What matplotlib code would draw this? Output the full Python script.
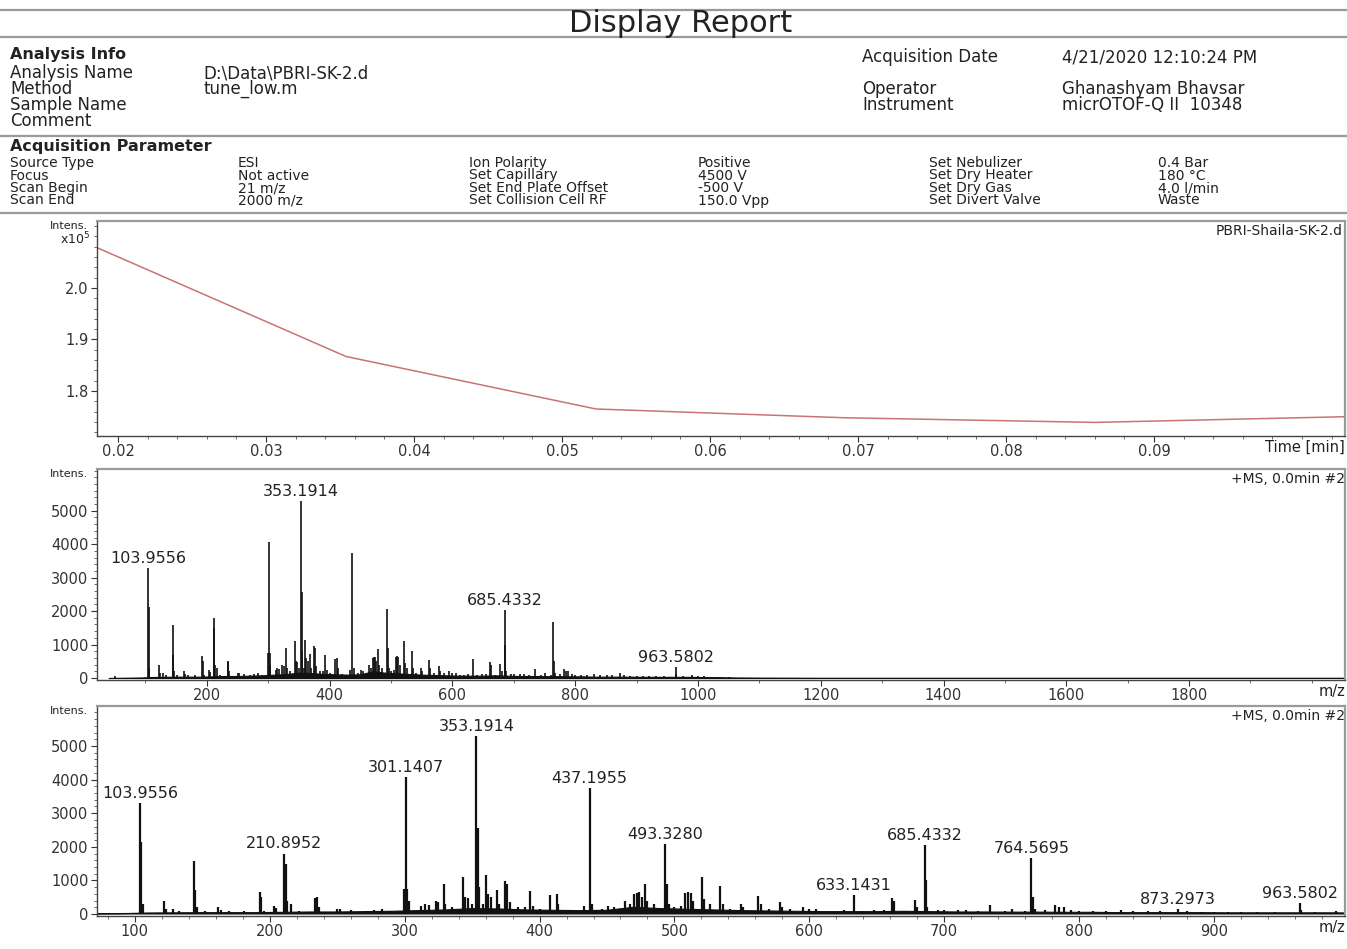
import matplotlib
matplotlib.use("Agg")
import matplotlib.pyplot as plt
from matplotlib.lines import Line2D
from matplotlib.ticker import MultipleLocator, FormatStrFormatter

W, H = 1347, 949
plt.rcParams['font.family'] = ['DejaVu Sans']

# chromatogram, intensity in units of 1e5
tic_time = [0.0186, 0.0354, 0.0523, 0.0691, 0.0860, 0.1028]
tic_int = [2.078, 1.867, 1.765, 1.748, 1.739, 1.750]

# spectrum peaks (m/z, intensity)
peak_mz = [51, 103.9556, 104.96, 106, 121.5, 123, 128, 133, 144.0, 145.0, 146.0, 152, 162.0, 164, 170,
           181, 192.5, 193.6, 196, 203.0, 205, 210.8952, 211.9, 213, 216, 222, 233.7, 235.0, 236.5,
           250.0, 252, 260, 271, 277, 283, 290, 299.8, 301.1407, 302.1, 303.1, 312, 315, 318, 323, 325,
           328.9, 330, 335, 343.5, 345, 347, 350, 353.1914, 354.2, 355.2, 358, 360.5, 362, 364, 368.5,
           370, 374.5, 376, 378, 384, 389, 393, 395, 400, 408, 412.6, 414, 420, 426, 433, 437.1955,
           439, 446, 451, 455, 463.5, 467, 470, 472, 474, 476, 478, 480, 485, 493.3280, 494.3, 496,
           500, 505, 508, 510, 512, 514, 520.3, 522, 526, 534, 536, 541, 549, 551, 562, 564, 570,
           578, 580, 586, 595, 600, 605, 612, 619, 626, 633.1431, 640, 648, 655, 661.5, 663, 670,
           678, 680, 685.4332, 686.4, 687.5, 695, 700, 710, 716, 725, 734, 745, 750, 760, 764.5695,
           765.6, 767, 775, 782, 785, 789, 794, 800, 810, 820, 831, 840, 851, 860, 873.2973, 880,
           890, 900, 910, 920, 932, 945, 963.5802, 964.6, 975, 990, 1000, 1010, 1030, 1050]
peak_int = [70, 3300, 2130, 300, 400, 150, 150, 100, 1580, 700, 200, 80, 220, 120, 80,
            80, 660, 520, 100, 230, 180, 1800, 1500, 400, 300, 100, 480, 500, 200,
            150, 160, 110, 100, 130, 150, 100, 750, 4080, 750, 400, 250, 300, 280, 400, 350,
            900, 300, 200, 1100, 500, 480, 300, 5300, 2560, 800, 300, 1150, 600, 500, 720,
            300, 970, 900, 350, 200, 200, 690, 250, 150, 560, 600, 300, 120, 100, 250, 3740,
            300, 150, 250, 200, 380, 300, 600, 620, 640, 500, 880, 400, 300, 2070, 900, 300,
            200, 250, 620, 650, 620, 400, 1100, 450, 300, 820, 300, 150, 300, 220, 540, 300, 150,
            350, 200, 150, 200, 150, 150, 100, 100, 120, 560, 100, 120, 120, 470, 400, 100,
            420, 200, 2040, 1000, 200, 130, 120, 110, 110, 100, 260, 100, 150, 100, 1670,
            500, 150, 120, 260, 200, 200, 120, 100, 90, 90, 120, 80, 80, 80, 140, 80,
            70, 70, 60, 60, 60, 70, 330, 120, 60, 80, 50, 50, 40, 30]

# noise floor of the spectrum
baseline_mz = [40, 80, 95, 100, 110, 130, 150, 170, 190, 210, 230, 250, 270, 290, 310, 330, 350,
               370, 390, 410, 430, 450, 470, 490, 510, 530, 550, 570, 590, 610, 630, 650, 670, 690,
               710, 730, 750, 770, 790, 810, 830, 850, 870, 890, 910, 930, 950, 970, 990, 1010,
               1030, 1060, 1100, 1200, 1400, 1600, 1800, 2060]
baseline_int = [0, 10, 15, 20, 30, 35, 40, 40, 40, 50, 60, 60, 70, 80, 100, 120, 160,
                150, 120, 110, 100, 110, 200, 160, 140, 120, 100, 90, 80, 70, 70, 70, 80, 70,
                60, 60, 55, 55, 50, 50, 40, 40, 40, 40, 35, 35, 35, 35, 35, 25,
                25, 15, 10, 5, 5, 5, 5, 5]

labels_full = [103.9556, 353.1914, 685.4332, 963.5802]
labels_zoom = [103.9556, 210.8952, 301.1407, 353.1914, 437.1955, 493.3280,
               633.1431, 685.4332, 764.5695, 873.2973, 963.5802]

info_keys = ["Analysis Name", "Method", "Sample Name", "Comment"]
info_vals = ["D:\\Data\\PBRI-SK-2.d", "tune_low.m", "", ""]
info_right_keys = ["Acquisition Date", "Operator", "Instrument"]
info_right_vals = ["4/21/2020 12:10:24 PM", "Ghanashyam Bhavsar", "micrOTOF-Q II  10348"]

param_names_1 = ["Source Type", "Focus", "Scan Begin", "Scan End"]
param_vals_1 = ["ESI", "Not active", "21 m/z", "2000 m/z"]
param_names_2 = ["Ion Polarity", "Set Capillary", "Set End Plate Offset", "Set Collision Cell RF"]
param_vals_2 = ["Positive", "4500 V", "-500 V", "150.0 Vpp"]
param_names_3 = ["Set Nebulizer", "Set Dry Heater", "Set Dry Gas", "Set Divert Valve"]
param_vals_3 = ["0.4 Bar", "180 °C", "4.0 l/min", "Waste"]

TXT = '#222222'
RULE = '#9a9a9a'


def fx(x):
    return x / W


def fy(y):
    return 1 - y / H


def put(x, y, s, size=11, **kw):
    fig.text(fx(x), fy(y), s, fontsize=size, color=TXT, va='center', **kw)


def hrule(y, lw=1.6):
    fig.add_artist(Line2D([0, 1], [fy(y), fy(y)], transform=fig.transFigure,
                          color=RULE, lw=lw))


fig = plt.figure(figsize=(W / 100, H / 100), dpi=100)

# ---- header
hrule(10)
hrule(37)
hrule(136)
hrule(213)
put(681, 23, "Display Report", size=22, ha='center')
put(10, 55, "Analysis Info", size=11.5, weight='bold')
for i, (k, v) in enumerate(zip(info_keys, info_vals)):
    put(10, 73 + 16 * i, k, size=12)
    put(203, 73 + 16 * i, v, size=12)
for k, v, y in zip(info_right_keys, info_right_vals, [57, 89, 105]):
    put(862, y, k, size=12)
    put(1062, y, v, size=12)

put(10, 147, "Acquisition Parameter", size=11.5, weight='bold')
cols = [(10, 238, param_names_1, param_vals_1),
        (469, 698, param_names_2, param_vals_2),
        (929, 1158, param_names_3, param_vals_3)]
for xn, xv, names, vals in cols:
    for i, (n, v) in enumerate(zip(names, vals)):
        put(xn, 163 + 12.5 * i, n, size=10)
        put(xv, 163 + 12.5 * i, v, size=10)


def style_axes(ax):
    for s in ['top', 'right']:
        ax.spines[s].set_color(RULE)
        ax.spines[s].set_linewidth(1.6)
    for s in ['left', 'bottom']:
        ax.spines[s].set_color('#444444')
        ax.spines[s].set_linewidth(1.0)
    ax.tick_params(which='major', length=4, width=0.8, labelsize=10.5, colors='#333333', pad=2)
    ax.tick_params(which='minor', length=2, width=0.6, colors='#555555')


def make_axes(top, bottom):
    left, right = 97, 1345
    return fig.add_axes([fx(left), fy(bottom), (right - left) / W, (bottom - top) / H])


# ---- chromatogram
ax1 = make_axes(221, 436)
ax1.plot(tic_time, tic_int, color='#c87474', lw=1.1)
ax1.set_xlim(0.01858, 0.1029)
ax1.set_ylim(1.7126, 2.13)
ax1.set_xticks([0.02, 0.03, 0.04, 0.05, 0.06, 0.07, 0.08, 0.09])
ax1.xaxis.set_major_formatter(FormatStrFormatter('%.2f'))
ax1.xaxis.set_minor_locator(MultipleLocator(0.002))
ax1.set_yticks([1.8, 1.9, 2.0])
ax1.yaxis.set_major_formatter(FormatStrFormatter('%.1f'))
ax1.yaxis.set_minor_locator(MultipleLocator(0.02))
style_axes(ax1)
ax1.text(1.0, -0.018, "Time [min]", transform=ax1.transAxes, ha='right', va='top',
         fontsize=10.5, color=TXT)
ax1.text(0.998, 0.985, "PBRI-Shaila-SK-2.d", transform=ax1.transAxes, ha='right', va='top',
         fontsize=10, color=TXT)
put(88, 226, "Intens.", size=8, ha='right')
put(90, 239, "x10$^5$", size=9, ha='right')


def spectrum(ax, lw, labels):
    ax.fill_between(baseline_mz, 0, baseline_int, color='#111111', lw=0.8)
    ax.vlines(peak_mz, 0, peak_int, color='#111111', lw=lw)
    for m in labels:
        h = peak_int[peak_mz.index(m)]
        ax.annotate(f"{m:.4f}", (m, h), xytext=(0, 1.5), textcoords='offset points',
                    ha='center', va='bottom', fontsize=11.5, color=TXT)
    ax.set_yticks([0, 1000, 2000, 3000, 4000, 5000])
    ax.yaxis.set_minor_locator(MultipleLocator(200))
    style_axes(ax)
    ax.text(1.0, -0.018, "m/z", transform=ax.transAxes, ha='right', va='top',
            fontsize=10.5, color=TXT)
    ax.text(1.0, 0.985, "+MS, 0.0min #2", transform=ax.transAxes, ha='right', va='top',
            fontsize=10, color=TXT)


# ---- full-range spectrum
ax2 = make_axes(469, 680)
spectrum(ax2, 1.2, labels_full)
ax2.set_xlim(21, 2054)
ax2.set_ylim(-60, 6250)
ax2.set_xticks([200, 400, 600, 800, 1000, 1200, 1400, 1600, 1800])
ax2.xaxis.set_minor_locator(MultipleLocator(100))
put(88, 474, "Intens.", size=8, ha='right')

# ---- zoomed spectrum
ax3 = make_axes(706, 916)
spectrum(ax3, 1.6, labels_zoom)
ax3.set_xlim(72, 997)
ax3.set_ylim(-60, 6190)
ax3.set_xticks([100, 200, 300, 400, 500, 600, 700, 800, 900])
ax3.xaxis.set_minor_locator(MultipleLocator(20))
put(88, 711, "Intens.", size=8, ha='right')

fig.savefig("out.png", dpi=100, facecolor='white')
